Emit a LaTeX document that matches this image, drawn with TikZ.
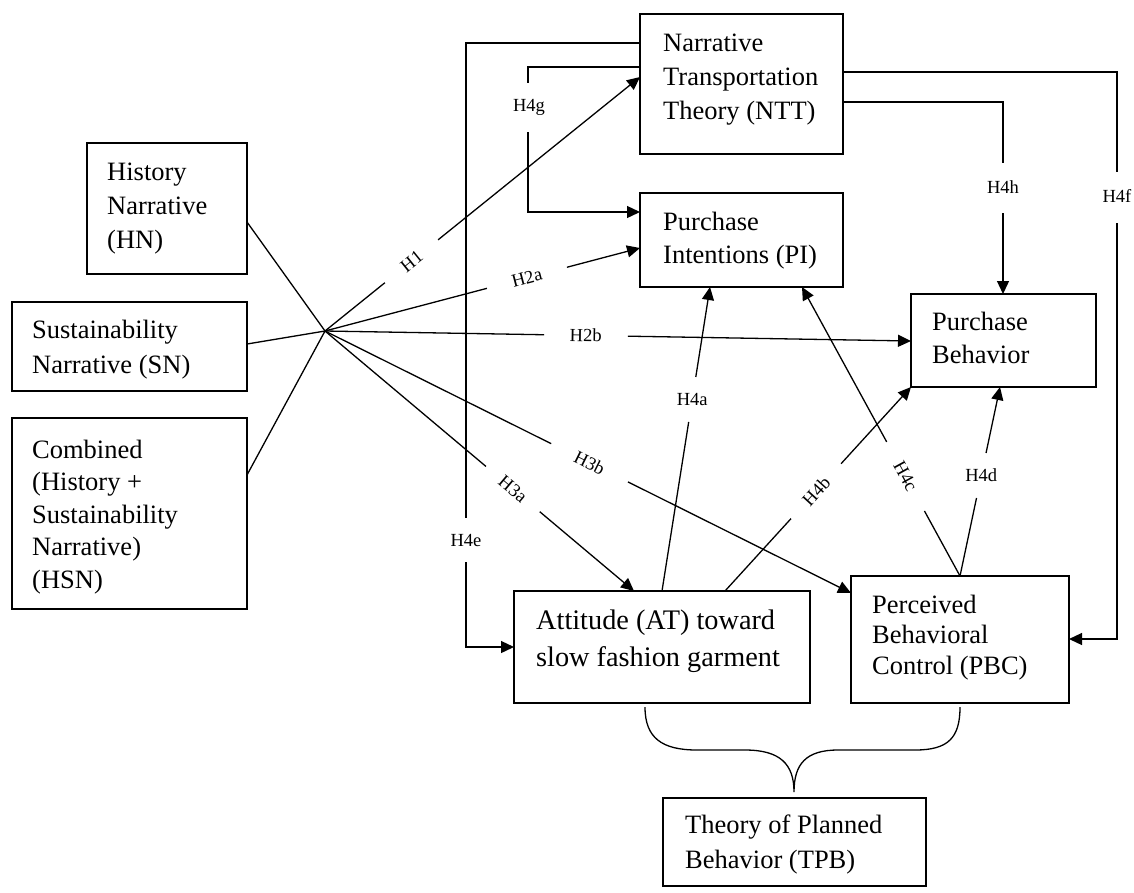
\documentclass[tikz,border=0pt]{standalone}
\usepackage{fontspec}
\setmainfont{Liberation Serif}
\usetikzlibrary{calc,arrows.meta}
\newcommand\gapline[8]{%
  \draw[conn] (#1) -- ($(#1)!#3!(#2)$);
  \draw[arr] ($(#1)!#4!(#2)$) -- (#2);
  \path (#1) -- (#2) node[lab,pos=#5,#8] (#6) {#7};}
\begin{document}
\begin{tikzpicture}[x=1pt,y=-1pt,
  box/.style={draw, line width=2.6pt, anchor=north west, inner sep=0pt, outer sep=0pt},
  txt/.style={anchor=north west, inner sep=0pt, align=left},
  lab/.style={font=\fontsize{18.5}{22}\selectfont, inner sep=0pt},
  conn/.style={line width=1.3pt},
  arr/.style={conn, -{Triangle[length=13pt,width=12pt]}}]
\useasboundingbox[fill=white] (0,0) rectangle (1134,892);

% boxes
\node[box, minimum width=160pt, minimum height=131pt] (hn) at (87,143) {};
\node[box, minimum width=235pt, minimum height=89pt] (sn) at (12,302) {};
\node[box, minimum width=235pt, minimum height=191pt] (hsn) at (12,418) {};
\node[box, minimum width=203pt, minimum height=140pt] (ntt) at (640,14) {};
\node[box, minimum width=203pt, minimum height=94pt] (pi) at (640,193) {};
\node[box, minimum width=185pt, minimum height=93pt] (pb) at (911,294) {};
\node[box, minimum width=296pt, minimum height=112pt] (at) at (514,591) {};
\node[box, minimum width=218pt, minimum height=127pt] (pbc) at (851,576) {};
\node[box, minimum width=263pt, minimum height=88pt] (tpb) at (663,798) {};

% texts
\node[txt, font=\fontsize{26.5}{34}\selectfont] (hnt) at (107,158) {\rule{0pt}{22pt}History\\Narrative\\(HN)};
\node[txt, font=\fontsize{26.5}{35}\selectfont] (snt) at (32,316) {\rule{0pt}{22pt}Sustainability\\Narrative (SN)};
\node[txt, font=\fontsize{26.5}{32.5}\selectfont] (hsnt) at (32,436) {\rule{0pt}{22pt}Combined\\(History +\\Sustainability\\Narrative)\\(HSN)};
\node[txt, font=\fontsize{26.5}{34}\selectfont] (nttt) at (663,29) {\rule{0pt}{22pt}Narrative\\Transportation\\Theory (NTT)};
\node[txt, font=\fontsize{26.5}{33}\selectfont] (pit) at (663,208) {\rule{0pt}{22pt}Purchase\\Intentions (PI)};
\node[txt, font=\fontsize{26.5}{33}\selectfont] (pbt) at (932,308) {\rule{0pt}{22pt}Purchase\\Behavior};
\node[txt, font=\fontsize{28.3}{37}\selectfont] (att) at (536,607) {\rule{0pt}{22pt}Attitude (AT) toward\\slow fashion garment};
\node[txt, font=\fontsize{26.5}{30.5}\selectfont] (pbct) at (872,591) {\rule{0pt}{22pt}Perceived\\Behavioral\\Control (PBC)};
\node[txt, font=\fontsize{26.5}{35}\selectfont] (tpbt) at (685,811) {\rule{0pt}{22pt}Theory of Planned\\Behavior (TPB)};

% junction and inputs
\coordinate (J) at (325,331);
\draw[conn] ($(hn.north east)+(0,79)$) -- (J);
\draw[conn] ($(sn.north east)+(0,42)$) -- (J);
\draw[conn] ($(hsn.north east)+(0,57)$) -- (J);

% targets and sources
\coordinate (tH1) at ($(ntt.north west)+(0,63)$);
\coordinate (tH2a) at ($(pi.north west)+(0,55)$);
\coordinate (tH2b) at ($(pb.north west)+(0,47)$);
\coordinate (tH3b) at ($(pbc.north west)+(0,17)$);
\coordinate (tH3a) at ($(at.north west)+(120,0)$);
\coordinate (sH4a) at ($(at.north west)+(148,0)$);
\coordinate (tH4a) at ($(pi.south west)+(70,0)$);
\coordinate (sH4b) at ($(at.north west)+(211,0)$);
\coordinate (tH4b) at (pb.south west);
\coordinate (sH4c) at ($(pbc.north west)+(109,0)$);
\coordinate (tH4c) at ($(pi.south west)+(162,0)$);
\coordinate (tH4d) at ($(pb.south west)+(89,0)$);

\gapline{J}{tH1}{0.19}{0.359}{0.275}{lH1}{H1}{sloped}
\gapline{J}{tH2a}{0.514}{0.768}{0.641}{lH2a}{H2a}{sloped}
\gapline{J}{tH2b}{0.374}{0.517}{0.445}{lH2b}{H2b}{sloped}
\gapline{J}{tH3b}{0.43}{0.576}{0.503}{lH3b}{H3b}{sloped}
\gapline{J}{tH3a}{0.521}{0.695}{0.608}{lH3a}{H3a}{sloped}
\gapline{sH4a}{tH4a}{0.556}{0.704}{0.63}{lH4a}{H4a}{}
\gapline{sH4b}{tH4b}{0.355}{0.624}{0.49}{lH4b}{H4b}{sloped}
\gapline{sH4c}{tH4c}{0.225}{0.464}{0.345}{lH4c}{H4c}{sloped}
\gapline{sH4c}{tH4d}{0.413}{0.651}{0.532}{lH4d}{H4d}{}

% H4e
\coordinate (e1) at (466,518);
\coordinate (e2) at (466,562);
\draw[conn] ($(ntt.north west)+(0,29)$) -| (e1);
\draw[arr] (e2) |- ($(at.north west)+(0,56)$);
\node[lab] (lH4e) at (466,540) {H4e};

% H4g
\coordinate (g1) at (528,83);
\coordinate (g2) at (528,132);
\draw[conn] ($(ntt.north west)+(0,53)$) -| (g1);
\draw[arr] (g2) |- ($(pi.north west)+(0,19)$);
\node[lab] (lH4g) at (529,107) {H4g};

% H4h
\coordinate (h1) at (1003,163);
\coordinate (h2) at (1003,213);
\draw[conn] ($(ntt.north east)+(0,88)$) -| (h1);
\draw[arr] (h2) -- ($(pb.north west)+(92,0)$);
\node[lab] (lH4h) at (1003,187) {H4h};

% H4f
\coordinate (f1) at (1117,172);
\coordinate (f2) at (1117,223);
\draw[conn] ($(ntt.north east)+(0,58)$) -| (f1);
\draw[arr] (f2) |- ($(pbc.north east)+(0,63)$);
\node[lab] (lH4f) at (1117,196) {H4f};

% brace
\draw[conn] (645,707) .. controls (645,738) and (662,750) .. (697,750)
  -- (745,750) .. controls (780,750) and (794,764) .. (794,792)
  .. controls (794,764) and (806,750) .. (838,750)
  -- (915,750) .. controls (948,750) and (960,738) .. (960,707);
\end{tikzpicture}
\end{document}
